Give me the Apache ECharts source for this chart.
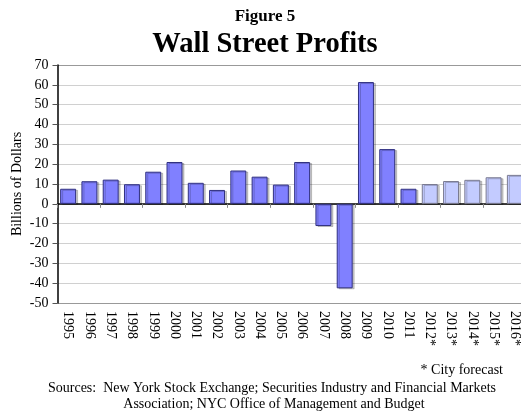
<!DOCTYPE html>
<html>
<head>
<meta charset="utf-8">
<script src="https://cdn.jsdelivr.net/npm/echarts@6/dist/echarts.min.js"></script>
<style>
  html, body { margin: 0; padding: 0; background: #fff; }
  #main { width: 521px; height: 413px; }
</style>
</head>
<body>
<div id="main"></div>
<script>
var years = ['1995', '1996', '1997', '1998', '1999', '2000', '2001', '2002', '2003', '2004', '2005',
  '2006', '2007', '2008', '2009', '2010', '2011', '2012*', '2013*', '2014*', '2015*', '2016*']
var profits = [7.6, 11.4, 12.2, 9.9, 16.2, 21.1, 10.6, 7.0, 16.8, 13.7, 9.7,
  21.1, -11.2, -42.6, 61.4, 27.6, 7.6, 10.0, 11.5, 12.1, 13.4, 14.6]
var yTicks = [-50, -40, -30, -20, -10, 0, 10, 20, 30, 40, 50, 60, 70]

var serif = '"Liberation Serif", "Times New Roman", serif'

// actual years in dark blue, forecast years (marked *) in pale blue
var barData = profits.map(function (v, i) {
  var forecast = years[i].indexOf('*') > -1
  return {
    value: v,
    itemStyle: forecast ? {
      color: '#c3cbff',
      borderColor: '#7a7a90'
    } : {
      color: '#8080ff',
      borderColor: '#303080'
    }
  }
})

// gridlines light grey, plot edges (top and bottom) darker
var gridColors = yTicks.map(function (t, i) {
  return (i === 0 || i === yTicks.length - 1) ? '#999' : '#d0d0d0'
})

var chart = echarts.init(document.getElementById('main'))
var option = {
  animation: false,
  grid: {
    left: 57.5,
    right: -4.5,
    top: 65,
    bottom: 110,
    outerBoundsMode: 'none'
  },
  xAxis: [
    {
      type: 'category',
      data: years,
      position: 'bottom',
      axisLine: { show: false, onZero: false },
      axisTick: { show: false },
      axisLabel: {
        rotate: -90,
        margin: 8,
        color: '#000',
        fontFamily: serif,
        fontSize: 14
      }
    },
    {
      type: 'category',
      data: years,
      position: 'bottom',
      axisLine: { show: true, onZero: true, lineStyle: { color: '#000', width: 1.5 } },
      axisTick: { show: true, length: 4, lineStyle: { color: '#888' } },
      axisLabel: { show: false }
    }
  ],
  yAxis: {
    type: 'value',
    min: yTicks[0],
    max: yTicks[yTicks.length - 1],
    interval: 10,
    name: 'Billions of Dollars',
    nameLocation: 'middle',
    nameGap: 33,
    nameMoveOverlap: false,
    nameTextStyle: { color: '#000', fontFamily: serif, fontSize: 14 },
    axisLine: { show: true, lineStyle: { color: '#000', width: 1.5 } },
    axisTick: { show: true, length: 5, lineStyle: { color: '#555' } },
    axisLabel: { color: '#000', fontFamily: serif, fontSize: 14, margin: 9 },
    splitLine: { lineStyle: { color: gridColors, width: 1.2 } }
  },
  series: [
    {
      type: 'bar',
      xAxisIndex: 0,
      data: barData,
      barCategoryGap: '25%',
      itemStyle: {
        borderWidth: 1,
        shadowColor: 'rgba(0,0,0,0.2)',
        shadowOffsetX: 2,
        shadowOffsetY: 1,
        shadowBlur: 0
      }
    }
  ],
  graphic: [
    {
      type: 'text', x: 265, y: 17,
      style: { text: 'Figure 5', fill: '#000', font: 'bold 17px ' + serif, textAlign: 'center', textVerticalAlign: 'middle' }
    },
    {
      type: 'text', x: 265, y: 45,
      style: { text: 'Wall Street Profits', fill: '#000', font: 'bold 28.5px ' + serif, textAlign: 'center', textVerticalAlign: 'middle' }
    },
    {
      type: 'text', x: 503, y: 370,
      style: { text: '* City forecast', fill: '#000', font: '14px ' + serif, textAlign: 'right', textVerticalAlign: 'middle' }
    },
    {
      type: 'text', x: 272, y: 388,
      style: { text: 'Sources:  New York Stock Exchange; Securities Industry and Financial Markets', fill: '#000', font: '14px ' + serif, textAlign: 'center', textVerticalAlign: 'middle' }
    },
    {
      type: 'text', x: 274, y: 404,
      style: { text: 'Association; NYC Office of Management and Budget', fill: '#000', font: '14px ' + serif, textAlign: 'center', textVerticalAlign: 'middle' }
    }
  ]
}
chart.setOption(option)
</script>
</body>
</html>
